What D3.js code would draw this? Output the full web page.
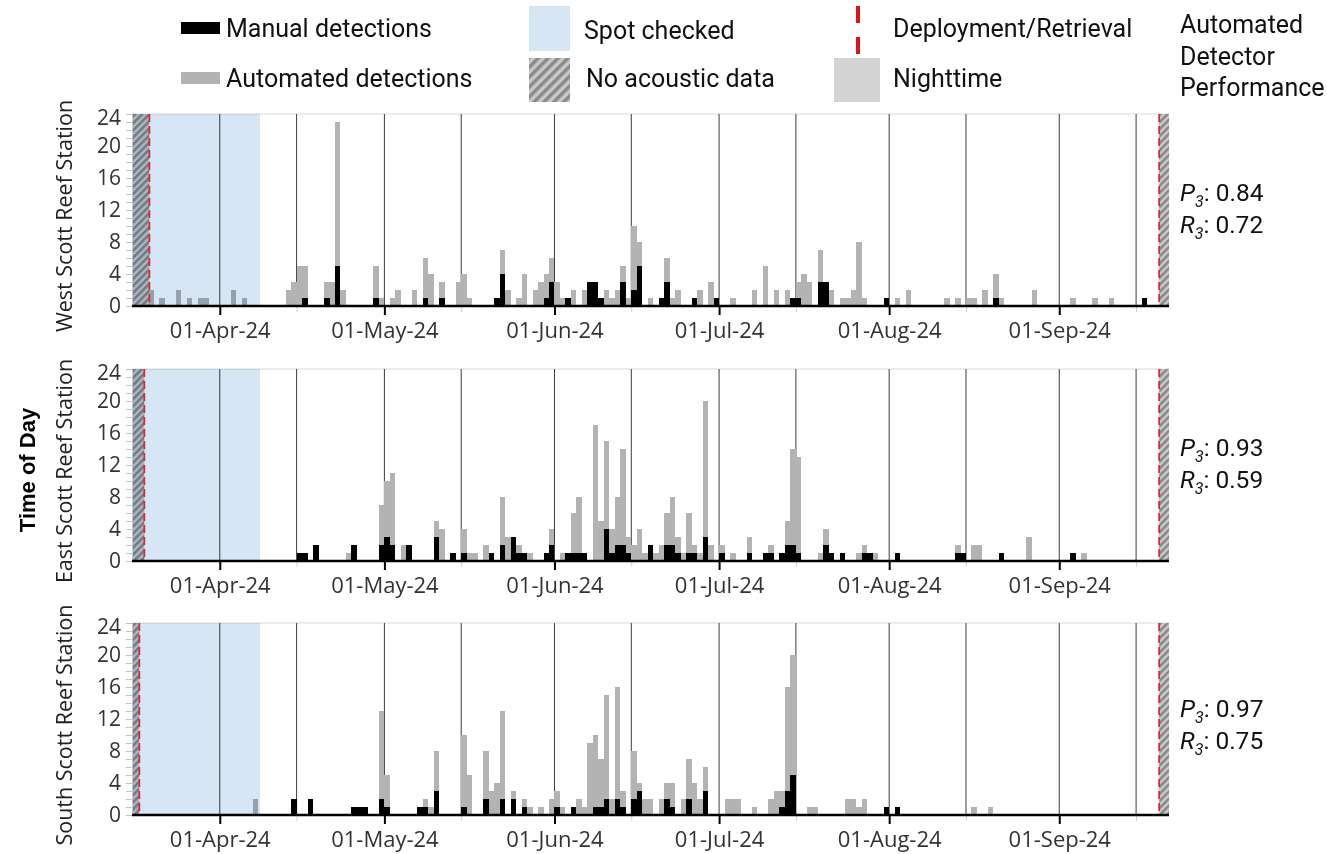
<!DOCTYPE html>
<html><head><meta charset="utf-8">
<script src="https://cdn.jsdelivr.net/npm/d3@7"></script>
<style>body{margin:0;background:#fff} svg{display:block}</style>
</head><body>
<svg id="chart" width="1327" height="854"></svg>
<script>
// ---------- DATA ----------
const year = "2024";
const westDates = ["03-19","03-21","03-24","03-26","03-28","03-29","04-03","04-05","04-13","04-14","04-15","04-16","04-20","04-21","04-22","04-23","04-29","04-30","05-02","05-03","05-06","05-08","05-09","05-11","05-14","05-15","05-16","05-21","05-22","05-23","05-25","05-26","05-28","05-29","05-30","05-31","06-01","06-02","06-03","06-04","06-06","06-07","06-08","06-09","06-10","06-11","06-12","06-13","06-14","06-15","06-16","06-18","06-20","06-21","06-22","06-23","06-26","06-27","06-29","06-30","07-03","07-07","07-09","07-11","07-13","07-14","07-15","07-16","07-17","07-19","07-20","07-21","07-23","07-24","07-25","07-26","07-27","07-31","08-02","08-04","08-11","08-13","08-15","08-16","08-18","08-20","08-21","08-27","09-03","09-07","09-10","09-16"];
const westAutomated = [2,1,2,1,1,1,2,1,2,3,5,5,3,3,23,2,5,1,1,2,2,6,4,3,3,4,1,1,7,2,1,4,2,3,4,6,3,1,1,2,2,3,3,1,2,1,2,5,1,10,8,1,1,6,1,2,1,2,3,1,1,2,5,2,2,1,3,4,3,7,3,2,1,1,2,8,1,1,1,2,1,1,1,1,2,4,1,2,1,1,1,1];
const westManual    = [0,0,0,0,0,0,0,0,0,0,0,1,1,0,5,0,1,0,0,0,0,1,0,1,0,0,0,1,4,0,0,0,0,0,1,3,0,0,1,0,0,3,3,1,0,0,0,3,0,2,5,0,1,3,0,0,1,0,0,1,0,0,0,0,0,1,1,0,0,3,3,0,0,0,0,0,0,1,0,0,0,0,0,0,0,1,0,0,0,0,0,1];

const eastDates = ["04-15","04-16","04-18","04-24","04-25","04-30","05-01","05-02","05-04","05-05","05-10","05-11","05-13","05-15","05-16","05-17","05-19","05-20","05-22","05-23","05-24","05-25","05-26","05-27","05-30","05-31","06-02","06-03","06-04","06-05","06-06","06-08","06-09","06-10","06-11","06-12","06-13","06-14","06-15","06-16","06-17","06-18","06-19","06-20","06-21","06-22","06-23","06-24","06-25","06-26","06-27","06-28","06-29","07-01","07-03","07-06","07-09","07-10","07-12","07-13","07-14","07-15","07-19","07-20","07-21","07-23","07-26","07-27","07-28","07-29","08-02","08-13","08-14","08-16","08-17","08-21","08-26","09-03","09-05"];
const eastAutomated = [0,0,0,1,0,7,10,11,2,0,5,4,0,4,1,1,2,0,8,3,3,2,1,1,1,4,1,1,6,8,1,17,5,15,4,8,14,3,2,4,1,2,1,2,6,8,3,1,6,2,1,20,2,2,1,3,1,2,1,5,14,13,1,4,1,1,1,2,1,1,1,2,1,2,2,1,3,1,1];
const eastManual    = [1,1,2,0,2,2,3,2,0,2,3,0,1,1,0,0,0,1,2,0,3,1,1,0,1,2,0,1,1,1,1,0,0,4,1,2,2,1,0,0,0,2,0,0,2,2,1,0,1,1,0,3,0,1,0,1,1,1,1,2,2,1,0,2,1,1,0,1,1,0,1,1,1,0,0,1,0,1,0];

const southDates = ["04-07","04-14","04-17","04-25","04-26","04-27","04-30","05-01","05-07","05-08","05-09","05-10","05-15","05-16","05-19","05-20","05-21","05-22","05-24","05-26","05-27","05-29","05-31","06-01","06-02","06-04","06-05","06-06","06-07","06-08","06-09","06-10","06-11","06-12","06-13","06-15","06-16","06-17","06-18","06-20","06-21","06-22","06-24","06-25","06-26","06-27","06-28","07-02","07-03","07-04","07-07","07-10","07-11","07-12","07-13","07-14","07-17","07-18","07-24","07-25","07-26","07-27","07-31","08-02","08-16","08-19"];
const southAutomated = [2,0,0,0,0,0,13,5,0,2,1,8,10,5,8,3,4,13,3,2,1,1,2,3,1,1,2,1,9,10,7,15,2,16,3,8,4,2,2,2,4,4,2,7,4,2,6,2,2,2,1,2,3,3,16,20,1,1,2,2,1,2,0,0,1,1];
const southManual    = [0,2,2,1,1,1,2,1,1,1,0,3,1,0,2,0,0,2,2,1,0,0,0,1,0,1,0,0,0,1,1,2,0,2,1,2,3,0,0,0,2,1,0,2,0,0,3,0,0,0,0,0,0,1,3,5,0,0,0,0,0,0,1,1,0,0];

const stationNames = ["West Scott Reef Station","East Scott Reef Station","South Scott Reef Station"];
const precisionValues = ["0.84","0.93","0.97"];
const recallValues = ["0.72","0.59","0.75"];
const deploymentTimes = ["2024-03-19T04:00","2024-03-18T06:00","2024-03-17T08:00"];
const retrievalTimes = ["2024-09-19T05:00","2024-09-19T05:00","2024-09-19T05:00"];
const spotCheckEnd = "2024-04-08T08:00";
const axisStart = "2024-03-16T00:00", axisEnd = "2024-09-21T00:00";
const monthTicks = ["2024-04-01","2024-05-01","2024-06-01","2024-07-01","2024-08-01","2024-09-01"];
const midMonthLines = ["2024-04-15","2024-05-15","2024-06-15","2024-07-15","2024-08-15","2024-09-15"];
const yTicks = [0,4,8,12,16,20,24];
const legendLabels = ["Manual detections","Automated detections","Spot checked","No acoustic data","Deployment/Retrieval","Nighttime"];
const performanceTitle = ["Automated","Detector","Performance"];

// ---------- SETUP ----------
const pDay = d3.utcParse("%Y-%m-%d");
const pTime = d3.utcParse("%Y-%m-%dT%H:%M");
const stations = [
  {dates: westDates, auto: westAutomated, manual: westManual},
  {dates: eastDates, auto: eastAutomated, manual: eastManual},
  {dates: southDates, auto: southAutomated, manual: southManual}
];
const svg = d3.select("#chart");
const x = d3.scaleUtc().domain([pTime(axisStart), pTime(axisEnd)]).range([132, 1169]);
const panelTops = [114, 369, 623];
const panelH = 192;

const defs = svg.append("defs");
function hatch(id, size, stripe, bg, fg){
  const p = defs.append("pattern").attr("id", id).attr("patternUnits","userSpaceOnUse")
    .attr("width", size).attr("height", size).attr("patternTransform","rotate(45)");
  p.append("rect").attr("width", size).attr("height", size).attr("fill", bg);
  p.append("rect").attr("width", stripe).attr("height", size).attr("fill", fg);
}
hatch("hatch", 5, 2.6, "#cdcdcd", "#878787");
hatch("hatchLegend", 7, 3.5, "#c9c9c9", "#8a8a8a");

const tickFont = "'Open Sans', 'Noto Sans', sans-serif";
const legendFont = "Roboto, 'Noto Sans', sans-serif";

stations.forEach((st, i) => {
  const top = panelTops[i];
  const y = d3.scaleLinear().domain([0, 24]).range([top + panelH, top]);
  const g = svg.append("g");
  const dep = pTime(deploymentTimes[i]), ret = pTime(retrievalTimes[i]);

  // top border
  g.append("line").attr("x1", x.range()[0]).attr("x2", x.range()[1])
    .attr("y1", y(24)).attr("y2", y(24)).attr("stroke", "#d9d9d9").attr("stroke-width", 1);

  // vertical reference lines (1st and 15th)
  const vlines = monthTicks.concat(midMonthLines).map(pDay);
  g.selectAll(".vl").data(vlines).join("line")
    .attr("x1", d => x(d)).attr("x2", d => x(d))
    .attr("y1", y(24)).attr("y2", y(0))
    .attr("stroke", "#3c3c3c").attr("stroke-width", 1);

  const rows = st.dates.map((d, k) => ({date: pDay(year + "-" + d), a: st.auto[k], m: st.manual[k]}));
  const w = d => x(d3.utcDay.offset(d, 1)) - x(d);
  g.selectAll(".auto").data(rows.filter(r => r.a > 0)).join("rect")
    .attr("x", r => x(r.date)).attr("width", r => w(r.date))
    .attr("y", r => y(r.a)).attr("height", r => y(0) - y(r.a))
    .attr("fill", "#b3b3b3").attr("shape-rendering", "crispEdges");
  g.selectAll(".man").data(rows.filter(r => r.m > 0)).join("rect")
    .attr("x", r => x(r.date)).attr("width", r => w(r.date))
    .attr("y", r => y(r.m)).attr("height", r => y(0) - y(r.m))
    .attr("fill", "#000").attr("shape-rendering", "crispEdges");

  // no acoustic data
  const gaps = [[pTime(axisStart), dep], [ret, pTime(axisEnd)]];
  g.selectAll(".gap").data(gaps).join("rect")
    .attr("x", d => x(d[0])).attr("width", d => x(d[1]) - x(d[0]))
    .attr("y", y(24)).attr("height", y(0) - y(24)).attr("fill", "url(#hatch)");

  // spot checked
  g.append("rect").attr("x", x(pTime(axisStart))).attr("width", x(pTime(spotCheckEnd)) - x(pTime(axisStart)))
    .attr("y", y(24)).attr("height", y(0) - y(24)).attr("fill", "#d6e6f4")
    .style("mix-blend-mode", "multiply");

  // deployment / retrieval
  g.selectAll(".dr").data([dep, ret]).join("line")
    .attr("x1", d => x(d)).attr("x2", d => x(d)).attr("y1", y(24)).attr("y2", y(0))
    .attr("stroke", "#e3262e").attr("stroke-width", 1.8).attr("stroke-dasharray", "8,4");

  // y axis
  const yMinor = g.append("g").attr("transform", `translate(${x.range()[0]},0)`)
    .call(d3.axisLeft(y).tickValues(d3.range(0, 25)).tickSize(6).tickFormat(""));
  yMinor.select(".domain").attr("stroke", "#c8c8c8");
  yMinor.selectAll(".tick line").attr("stroke", "#c4c4c4");
  const yAx = g.append("g").attr("transform", `translate(${x.range()[0]},0)`)
    .call(d3.axisLeft(y).tickValues(yTicks).tickSize(0).tickPadding(11));
  yAx.select(".domain").remove();
  yAx.selectAll("text").attr("font-family", tickFont).attr("font-size", 21).attr("fill", "#333");
  yAx.selectAll(".tick").filter(d => d === 24).select("text").attr("dy", 10);

  // x axis minor ticks (15th)
  const xMinor = g.append("g").attr("transform", `translate(0,${y(0)})`)
    .call(d3.axisBottom(x).tickValues(midMonthLines.map(pDay)).tickSize(6).tickFormat(""));
  xMinor.select(".domain").remove();
  xMinor.selectAll(".tick line").attr("stroke", "#cfcfcf");
  // x axis
  const xAx = g.append("g").attr("transform", `translate(0,${y(0)})`)
    .call(d3.axisBottom(x).tickValues(monthTicks.map(pDay)).tickSize(9).tickPadding(7)
      .tickFormat(d3.utcFormat("%d-%b-%y")));
  xAx.select(".domain").attr("stroke", "#000").attr("stroke-width", 2.6).attr("d", `M${x.range()[0]},0H${x.range()[1]}`);
  xAx.selectAll(".tick line").attr("stroke", "#000").attr("stroke-width", 2);
  xAx.selectAll("text").attr("font-family", tickFont).attr("font-size", 22).attr("fill", "#333");

  // station label
  svg.append("text").attr("transform", `translate(72,${top + panelH / 2 + 6}) rotate(-90)`)
    .attr("text-anchor", "middle").attr("font-family", tickFont).attr("font-size", 21.5)
    .attr("fill", "#222").text(stationNames[i]);

  // performance
  const perf = [["P", precisionValues[i]], ["R", recallValues[i]]];
  const pBase = [201, 456, 717][i];
  perf.forEach((p, k) => {
    const t = svg.append("text").attr("x", 1180).attr("y", pBase + k * 32)
      .attr("font-family", legendFont).attr("font-size", 24.5).attr("fill", "#111");
    t.append("tspan").attr("font-style", "italic").text(p[0]);
    t.append("tspan").attr("font-style", "italic").attr("font-size", 16).attr("dy", 6).text("3");
    t.append("tspan").attr("dy", -6).text(": " + p[1]);
  });
});

// Time of Day
svg.append("text").attr("transform", "translate(35,470) rotate(-90)").attr("text-anchor", "middle")
  .attr("font-family", "'Liberation Sans', Arial, sans-serif").attr("font-weight", "bold")
  .attr("font-size", 22).attr("fill", "#000").text("Time of Day");

// ---------- LEGEND ----------
const lg = svg.append("g").attr("font-family", legendFont).attr("font-size", 25).attr("fill", "#111");
lg.append("rect").attr("x", 181).attr("y", 22).attr("width", 39).attr("height", 12).attr("fill", "#000");
lg.append("rect").attr("x", 181).attr("y", 72).attr("width", 39).attr("height", 12).attr("fill", "#b3b3b3");
lg.append("rect").attr("x", 529).attr("y", 6).attr("width", 41).attr("height", 45).attr("fill", "#d6e6f4");
lg.append("rect").attr("x", 529).attr("y", 58).attr("width", 41).attr("height", 44).attr("fill", "url(#hatchLegend)");
lg.append("line").attr("x1", 858).attr("x2", 858).attr("y1", 6).attr("y2", 54)
  .attr("stroke", "#d7141c").attr("stroke-width", 4).attr("stroke-dasharray", "17,14");
lg.append("rect").attr("x", 834).attr("y", 58).attr("width", 46).attr("height", 44).attr("fill", "#d3d3d3");
const lpos = [[226, 37], [226, 87], [584, 39], [586, 87], [893, 37], [893, 87]];
legendLabels.forEach((t, k) => lg.append("text").attr("x", lpos[k][0]).attr("y", lpos[k][1]).text(t));
performanceTitle.forEach((t, k) => lg.append("text").attr("x", 1180).attr("y", 33 + k * 31.5).text(t));
</script>
</body></html>
